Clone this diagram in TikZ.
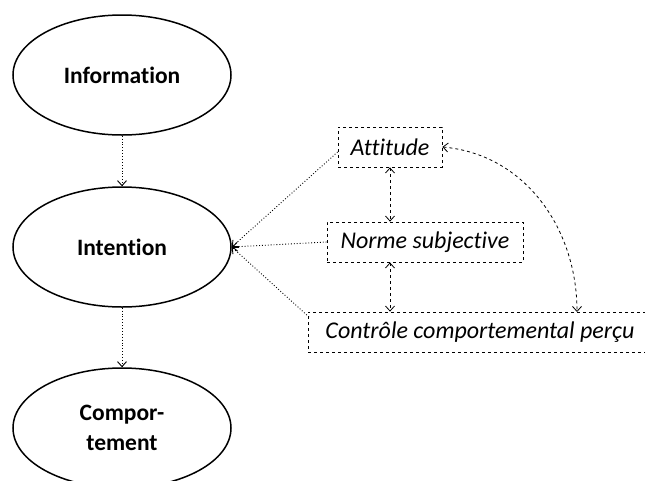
\documentclass[tikz,border=0pt]{standalone}
\usepackage{fontspec}
\setmainfont[Ligatures=NoCommon]{Carlito}
\usetikzlibrary{shapes.geometric,arrows.meta}
\begin{document}
\begin{tikzpicture}[x=1pt,y=-1pt,
  oval/.style={draw,line width=1.5pt,ellipse,minimum width=218pt,minimum height=120pt,font=\fontsize{23.5}{30}\selectfont\bfseries,align=center,inner sep=0pt},
  dbox/.style={draw,dashed,line width=0.8pt,font=\fontsize{24}{28}\selectfont\itshape,inner sep=0pt,minimum height=40pt},
  dotarrow/.style={dotted,line width=0.9pt,-{Straight Barb[length=5pt,width=9pt]}},
  dasharrow/.style={dashed,line width=0.8pt,{Straight Barb[length=5pt,width=9pt]}-{Straight Barb[length=5pt,width=9pt]}}
]
\useasboundingbox[fill=white] (0,0) rectangle (645,480);
\node[oval] (info) at (122,75) {Information};
\node[oval] (intent) at (122,247) {Intention};
\node[oval] (comp) at (122,428) {Compor-\\tement};
\node[dbox,minimum width=104pt] (att) at (390,147) {Attitude};
\node[dbox,minimum width=196pt] (norme) at (425,242) {Norme subjective};
\node[dbox,minimum width=344pt] (ctrl) at (480,332) {Contrôle comportemental perçu};
\coordinate (ctrlc) at (309,317);
\coordinate (ctrltop) at (577,312);
\draw[dotarrow] (att.west |- 0,152) -- (intent.east);
\draw[dotarrow] (info.south) -- (intent.north);
\draw[dotarrow] (intent.south) -- (comp.north);
\draw[dotarrow] (norme.west) -- (intent.east);
\draw[dotarrow] (ctrlc) -- (intent.east);
\draw[dasharrow] (att.south) -- (norme.north -| att.south);
\draw[dasharrow] (norme.south -| att.south) -- (ctrl.north -| att.south);
\draw[dasharrow] (att.east) to[out=-5,in=90] (ctrltop);
\end{tikzpicture}
\end{document}
